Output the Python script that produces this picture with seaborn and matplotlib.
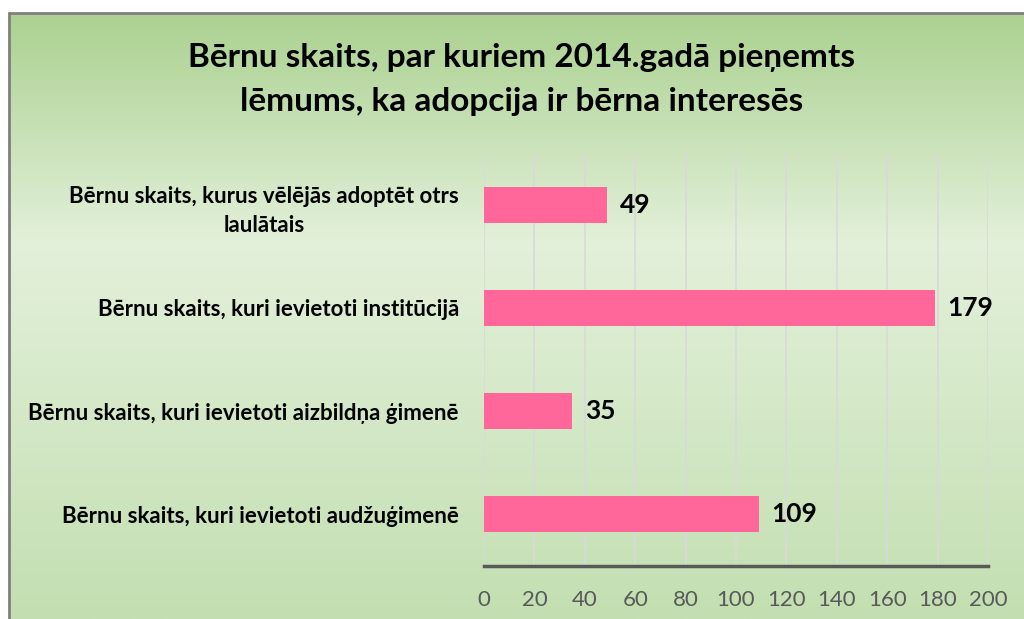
import numpy as np
import pandas as pd
import matplotlib
matplotlib.use("Agg")
import matplotlib.pyplot as plt
from matplotlib.colors import LinearSegmentedColormap
import seaborn as sns

# data
categories = [
    "Bērnu skaits, kurus vēlējās adoptēt otrs\nlaulātais",
    "Bērnu skaits, kuri ievietoti institūcijā",
    "Bērnu skaits, kuri ievietoti aizbildņa ģimenē",
    "Bērnu skaits, kuri ievietoti audžuģimenē",
]
values = [49, 179, 35, 109]
x_ticks = [0, 20, 40, 60, 80, 100, 120, 140, 160, 180, 200]
title = "Bērnu skaits, par kuriem 2014.gadā pieņemts\nlēmums, ka adopcija ir bērna interesēs"

df = pd.DataFrame({"kategorija": categories, "skaits": values})

sns.set_style("white")
plt.rcParams["font.family"] = ["Lato", "DejaVu Sans"]

fig = plt.figure(figsize=(10.24, 6.19), dpi=100)

# gradient background (chart area starts a bit in from the left/top edge)
bg = fig.add_axes([0, 0, 1, 1])
bg.set_xlim(0, 1024)
bg.set_ylim(619, 0)
bg.axis("off")
cmap = LinearSegmentedColormap.from_list(
    "bg", [(0, "#abd190"), (0.38, "#e3f0da"), (1, "#c3dfb1")]
)
grad = np.linspace(0, 1, 256).reshape(-1, 1)
bg.imshow(grad, cmap=cmap, aspect="auto", extent=[9, 1024, 619, 13], zorder=0)
bg.plot([9, 9], [619, 13], color="#7f7f7f", lw=2, zorder=1)
bg.plot([9, 1024], [13, 13], color="#7f7f7f", lw=2, zorder=1)

ax = fig.add_axes([484 / 1024, 53 / 619, 504 / 1024, 413 / 619])
ax.patch.set_alpha(0)
sns.barplot(data=df, x="skaits", y="kategorija", orient="h",
            color="#ff6699", saturation=1, width=0.35, linewidth=0,
            ax=ax, zorder=3)

ax.set_xlim(0, 200)
ax.set_xticks(x_ticks)
ax.grid(axis="x", color="#d9d9d9", lw=1.2, zorder=0)
ax.set_axisbelow(True)
for s in ["top", "right", "left"]:
    ax.spines[s].set_visible(False)
ax.spines["bottom"].set_color("#595959")
ax.spines["bottom"].set_linewidth(2.5)
ax.tick_params(axis="x", length=0, pad=17, labelsize=16, labelcolor="#595959")
ax.tick_params(axis="y", length=0, pad=18)
for lbl in ax.get_yticklabels():
    lbl.set_fontsize(16)
    lbl.set_fontweight("bold")
    lbl.set_color("black")
    lbl.set_multialignment("center")
    lbl.set_linespacing(1.5)
ax.set_xlabel("")
ax.set_ylabel("")

for i, v in enumerate(values):
    ax.text(v + 5, i, str(v), va="center", ha="left",
            fontsize=19, fontweight="bold", color="black")

fig.text(0.509, 0.872, title, ha="center", va="center", fontsize=24,
         fontweight="bold", color="black", linespacing=1.62)

fig.savefig("out.png", dpi=100)
